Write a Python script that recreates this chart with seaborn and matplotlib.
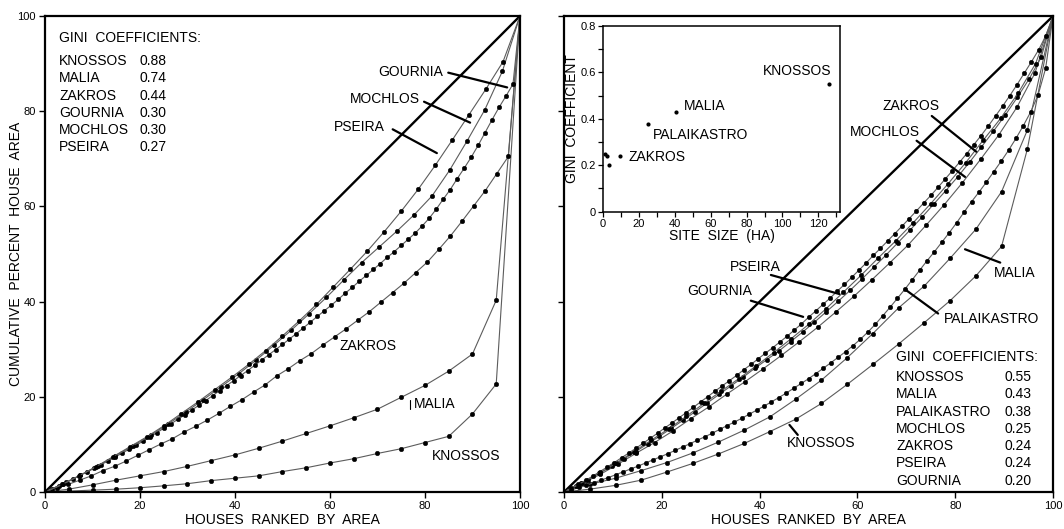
import matplotlib
matplotlib.use("Agg")
import matplotlib.pyplot as plt
import numpy as np
import pandas as pd
import seaborn as sns

# ---------------------------------------------------------------- data
# Cumulative percent of house area, houses ranked from smallest to largest.
# Each list runs from rank 0 to the full set of houses (100 %).
LEFT_CURVES = {
    "KNOSSOS": [0, 0.2, 0.4, 0.6, 0.9, 1.3, 1.75, 2.4, 2.9, 3.4, 4.3, 5.1, 6.1,
                7.0, 8.1, 9.1, 10.4, 11.7, 16.4, 22.7, 100],
    "MALIA": [0, 0.6, 1.5, 2.5, 3.4, 4.3, 5.4, 6.6, 7.8, 9.2, 10.7, 12.3, 13.9,
              15.6, 17.4, 19.9, 22.4, 25.4, 29.0, 40.3, 100],
    "ZAKROS": [0, 0.8, 1.6, 2.5, 3.4, 4.5, 5.4, 6.5, 7.7, 8.9, 10.1, 11.2, 12.6,
               13.8, 15.1, 16.5, 18.0, 19.4, 21.0, 22.5, 24.4, 25.9, 27.6, 29.1,
               30.9, 32.6, 34.3, 36.1, 37.9, 39.9, 41.9, 43.9, 46.1, 48.3, 51.0,
               53.8, 56.9, 60.1, 63.3, 66.9, 70.5, 100],
    "GOURNIA": [0, 0.65, 1.35, 2.05, 2.75, 3.5, 4.2, 4.95, 5.75, 6.5, 7.3, 8.15,
                8.95, 9.8, 10.65, 11.55, 12.45, 13.4, 14.3, 15.25, 16.2, 17.2,
                18.2, 19.2, 20.25, 21.3, 22.35, 23.4, 24.45, 25.5, 26.6, 27.7,
                28.8, 29.9, 31.0, 32.15, 33.3, 34.5, 35.7, 36.9, 38.1, 39.25,
                40.5, 41.8, 43.0, 44.3, 45.5, 46.75, 48.0, 49.3, 50.5, 51.8,
                53.1, 54.4, 55.9, 57.5, 59.4, 61.5, 63.5, 65.8, 68.0, 70.3,
                72.8, 75.5, 78.2, 80.8, 83.2, 85.7, 100],
    "MOCHLOS": [0, 1.6, 3.5, 5.5, 7.6, 9.7, 11.9, 14.3, 16.8, 19.4, 22.1, 24.8,
                27.7, 30.8, 34.0, 37.4, 40.9, 44.6, 48.2, 51.5, 54.8, 58.3, 62.2,
                67.6, 73.8, 80.3, 88.4, 100],
    "PSEIRA": [0, 1.6, 3.4, 5.3, 7.4, 9.5, 11.6, 13.9, 16.4, 18.9, 21.5, 24.1,
               26.8, 29.7, 32.8, 36.0, 39.4, 43.1, 46.8, 50.6, 54.7, 59.0, 63.6,
               68.6, 73.9, 79.3, 84.7, 90.4, 100],
}

RIGHT_CURVES = {
    "KNOSSOS": [0, 0.6, 1.4, 2.5, 4.2, 6.0, 8.0, 10.2, 12.7, 15.3, 18.6, 22.6,
                26.8, 31.1, 35.6, 40.2, 45.4, 51.6, 72.0, 100],
    "MALIA": [0, 1.6, 2.9, 4.5, 6.2, 8.2, 10.5, 13.0, 15.8, 19.5, 23.5, 28.2,
              33.3, 38.7, 43.3, 49.1, 55.2, 63.1, 76.0, 100],
    "PALAIKASTRO": [0, 0.5, 1.0, 1.45, 1.95, 2.5, 3.05, 3.65, 4.25, 4.85, 5.45,
                    6.1, 6.75, 7.4, 8.05, 8.75, 9.45, 10.15, 10.9, 11.6, 12.35,
                    13.15, 13.95, 14.7, 15.5, 16.35, 17.2, 18.05, 18.95, 19.85,
                    20.8, 21.8, 22.8, 23.8, 24.9, 26.0, 27.15, 28.3, 29.5,
                    30.75, 32.1, 33.6, 35.2, 37.0, 38.8, 40.7, 42.6, 44.6, 46.6,
                    48.6, 50.5, 52.5, 54.5, 56.6, 58.8, 61.0, 63.0, 65.1, 67.3,
                    69.5, 71.8, 74.3, 77.0, 79.9, 83.5, 89.0, 100],
    "MOCHLOS": [0, 1.8, 3.7, 5.9, 8.2, 10.4, 12.8, 15.4, 17.9, 20.6, 23.2, 25.9,
                28.7, 31.6, 34.6, 37.8, 41.1, 44.6, 48.2, 51.9, 56.1, 60.4, 65.0,
                69.9, 75.0, 80.8, 88.0, 100],
    "ZAKROS": [0, 1.3, 2.6, 4.0, 5.4, 6.9, 8.5, 10.1, 11.7, 13.4, 15.1, 16.9,
               18.7, 20.5, 22.3, 24.1, 26.0, 27.8, 29.6, 31.6, 33.6, 35.7, 37.9,
               40.1, 42.4, 44.8, 47.3, 49.8, 52.4, 55.0, 57.7, 60.5, 63.3, 66.2,
               69.3, 72.5, 75.8, 79.2, 82.9, 86.8, 91.3, 100],
    "PSEIRA": [0, 1.9, 3.9, 6.1, 8.5, 10.9, 13.3, 15.9, 18.6, 21.2, 23.8, 26.5,
               29.3, 32.2, 35.2, 38.5, 42.0, 45.5, 49.2, 52.8, 56.6, 60.6, 64.8,
               69.2, 73.9, 78.5, 83.8, 90.0, 100],
    "GOURNIA": [0, 0.8, 1.6, 2.45, 3.35, 4.3, 5.25, 6.2, 7.2, 8.2, 9.2, 10.25,
                11.3, 12.35, 13.45, 14.5, 15.6, 16.7, 17.8, 18.95, 20.05, 21.2,
                22.3, 23.4, 24.5, 25.7, 26.8, 28.0, 29.15, 30.3, 31.5, 32.7,
                34.0, 35.3, 36.7, 38.05, 39.4, 40.75, 42.2, 43.6, 45.1, 46.6,
                48.1, 49.7, 51.2, 52.75, 54.3, 55.85, 57.45, 59.05, 60.7, 62.3,
                64.0, 65.75, 67.5, 69.3, 71.1, 73.0, 74.9, 76.9, 79.0, 81.1,
                83.3, 85.6, 88.0, 90.4, 92.9, 95.9, 100],
}

# Gini coefficients listed in the two tables
LEFT_GINI_SITES = ["KNOSSOS", "MALIA", "ZAKROS", "GOURNIA", "MOCHLOS", "PSEIRA"]
LEFT_GINI = [0.88, 0.74, 0.44, 0.30, 0.30, 0.27]
RIGHT_GINI_SITES = ["KNOSSOS", "MALIA", "PALAIKASTRO", "MOCHLOS", "ZAKROS",
                    "PSEIRA", "GOURNIA"]
RIGHT_GINI = [0.55, 0.43, 0.38, 0.25, 0.24, 0.24, 0.20]

# Site size (ha) for the inset scatter, same order as RIGHT_GINI_SITES
SITE_SIZE_HA = [126, 40.5, 25, 1.2, 9.3, 2.0, 3.4]

EQUALITY = [0, 100]
AXIS_TICKS = [0, 20, 40, 60, 80, 100]

# ---------------------------------------------------------------- style
sns.set_style("ticks")
plt.rcParams["font.family"] = ["Liberation Sans", "DejaVu Sans"]
plt.rcParams["axes.linewidth"] = 1.6
plt.rcParams["xtick.major.width"] = 1.0
plt.rcParams["ytick.major.width"] = 1.0
for key in ("text.color", "axes.labelcolor", "xtick.color", "ytick.color",
            "xtick.labelcolor", "ytick.labelcolor", "axes.edgecolor"):
    plt.rcParams[key] = "black"

CURVE_GREY = "#5c5c5c"
LABEL_FS = 10
TICK_FS = 8


def lorenz_frame(curves):
    rows = []
    for site, values in curves.items():
        n = len(values) - 1
        for k, v in enumerate(values):
            rows.append((site, 100.0 * k / n, v))
    return pd.DataFrame(rows, columns=["site", "houses", "area"])


def draw_panel(ax, curves):
    df = lorenz_frame(curves)
    sns.lineplot(x=EQUALITY, y=EQUALITY, ax=ax, color="black", lw=1.7)
    for site in curves:
        sub = df[df["site"] == site]
        sns.lineplot(data=sub, x="houses", y="area", ax=ax, sort=False,
                     estimator=None, color=CURVE_GREY, lw=0.8, marker="o",
                     markersize=3.3, markerfacecolor="black",
                     markeredgecolor="black", markeredgewidth=0.3)
    ax.set_xlim(0, 100)
    ax.set_ylim(0, 100)
    ax.set_xticks(AXIS_TICKS)
    ax.set_yticks(AXIS_TICKS)
    ax.tick_params(direction="out", length=4.5, labelsize=TICK_FS, pad=2,
                   colors="black")
    ax.set_xlabel("HOUSES  RANKED  BY  AREA", fontsize=LABEL_FS, labelpad=1.5)
    for s in ax.spines.values():
        s.set_visible(True)
        s.set_color("black")


def pointer(ax, start, end):
    ax.annotate("", xy=end, xytext=start,
                arrowprops=dict(arrowstyle="-", lw=1.6, color="black",
                                shrinkA=0, shrinkB=0))


def gini_table(ax, x_name, x_val, y_title, y_rows, sites, values):
    ax.text(x_name, y_title, "GINI  COEFFICIENTS:", fontsize=LABEL_FS,
            va="center", ha="left")
    for y, site, g in zip(y_rows, sites, values):
        ax.text(x_name, y, site, fontsize=LABEL_FS, va="center", ha="left")
        ax.text(x_val, y, f"{g:.2f}", fontsize=LABEL_FS, va="center", ha="left")


fig = plt.figure(figsize=(10.64, 5.29), dpi=100)
axL = fig.add_axes([0.0423, 0.0699, 0.4464, 0.8998])
axR = fig.add_axes([0.5301, 0.0699, 0.4596, 0.8998])

# ---------------------------------------------------------------- left panel
draw_panel(axL, LEFT_CURVES)
axL.set_ylabel("CUMULATIVE  PERCENT  HOUSE  AREA", fontsize=LABEL_FS)
axL.yaxis.set_label_coords(-0.047, 0.5)
gini_table(axL, 3.0, 19.9, 95.3, [90.6, 86.9, 83.3, 79.7, 76.1, 72.4],
           LEFT_GINI_SITES, LEFT_GINI)

for name, pos in {"GOURNIA": (70.1, 88.3), "MOCHLOS": (64.2, 82.6),
                  "PSEIRA": (60.9, 76.7), "ZAKROS": (62.1, 30.7),
                  "MALIA": (77.6, 18.4), "KNOSSOS": (81.5, 7.6)}.items():
    axL.text(pos[0], pos[1], name, fontsize=LABEL_FS, va="center", ha="left")

pointer(axL, (84.9, 88.1), (97.3, 85.0))
pointer(axL, (79.8, 82.0), (89.5, 77.6))
pointer(axL, (73.2, 76.2), (82.5, 71.2))
axL.plot([76.9, 76.9], [17.4, 19.3], color="black", lw=0.8)

# ---------------------------------------------------------------- right panel
draw_panel(axR, RIGHT_CURVES)
axR.set_ylabel("")
axR.set_yticklabels([])
gini_table(axR, 67.9, 90.0, 28.4, [24.2, 20.6, 16.9, 13.2, 9.7, 6.2, 2.4],
           RIGHT_GINI_SITES, RIGHT_GINI)

for name, pos in {"ZAKROS": (65.2, 81.1), "MOCHLOS": (58.5, 75.7),
                  "PSEIRA": (33.9, 47.3), "GOURNIA": (25.2, 42.3),
                  "MALIA": (87.8, 46.1), "PALAIKASTRO": (77.7, 36.3),
                  "KNOSSOS": (45.5, 10.2)}.items():
    axR.text(pos[0], pos[1], name, fontsize=LABEL_FS, va="center", ha="left")

pointer(axR, (75.2, 79.0), (84.3, 71.5))
pointer(axR, (72.1, 73.8), (82.0, 66.2))
pointer(axR, (42.3, 45.6), (56.3, 41.6))
pointer(axR, (38.2, 40.2), (48.9, 36.8))
pointer(axR, (82.0, 51.0), (89.2, 48.2))
pointer(axR, (69.7, 42.6), (76.5, 37.5))
pointer(axR, (46.1, 14.1), (47.8, 12.0))

# ---------------------------------------------------------------- inset
axI = fig.add_axes([0.5667, 0.5998, 0.2227, 0.351])
axI.set_facecolor("white")
site_df = pd.DataFrame({"site": RIGHT_GINI_SITES, "size": SITE_SIZE_HA,
                        "gini": RIGHT_GINI})
sns.scatterplot(data=site_df, x="size", y="gini", ax=axI, color="black",
                s=9, edgecolor="black", linewidth=0)
axI.set_xlim(0, 132)
axI.set_ylim(0, 0.8)
axI.set_xticks([0, 20, 40, 60, 80, 100, 120])
axI.set_xticks(np.arange(10, 131, 20), minor=True)
axI.set_yticks([0, 0.2, 0.4, 0.6, 0.8])
axI.set_yticklabels(["0", "0.2", "0.4", "0.6", "0.8"])
axI.set_yticks([0.1, 0.3, 0.5, 0.7], minor=True)
axI.tick_params(which="both", direction="out", length=3.5, width=0.9,
                labelsize=TICK_FS, pad=1.5, colors="black")
axI.set_xlabel("SITE  SIZE  (HA)", fontsize=LABEL_FS, labelpad=0)
axI.set_ylabel("GINI  COEFFICIENT", fontsize=LABEL_FS, labelpad=1)
for s in axI.spines.values():
    s.set_visible(True)
    s.set_linewidth(1.1)
    s.set_color("black")

for name, pos in {"KNOSSOS": (89.2, 0.605), "MALIA": (45.2, 0.454),
                  "PALAIKASTRO": (27.8, 0.332), "ZAKROS": (14.4, 0.235)}.items():
    axI.text(pos[0], pos[1], name, fontsize=LABEL_FS, va="center", ha="left")

fig.savefig("out.png", dpi=100, facecolor="white")
